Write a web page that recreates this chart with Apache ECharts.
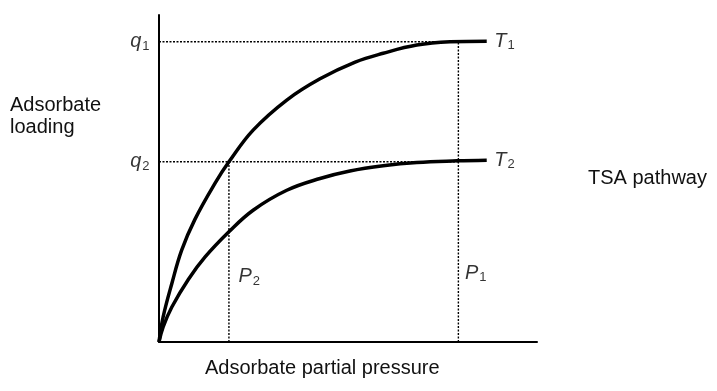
<!DOCTYPE html>
<html>
<head>
<meta charset="utf-8">
<script src="https://cdn.jsdelivr.net/npm/echarts@6/dist/echarts.min.js"></script>
<style>html,body{margin:0;padding:0;background:#fff}#c{width:717px;height:391px}</style>
</head>
<body>
<div id="c"></div>
<script>
// Isotherm at T1 (higher loading) and T2 (lower loading); x = partial pressure, y = loading (arbitrary units)
const t1X = [0, 1.1, 3.4, 6.0, 9.5, 14.8, 18.5, 24.9, 33.8, 42.6, 51.9, 59.3, 68.2, 77.0, 86.7];
const t1Y = [0, 7.7, 17.9, 28.1, 37.5, 48.5, 55.1, 64.8, 74.0, 80.5, 85.6, 88.3, 90.8, 91.8, 92.0];
const t2X = [0, 1.1, 3.4, 7.8, 12.2, 18.5, 24.9, 33.8, 42.6, 50.5, 59.3, 68.2, 78.8, 86.7];
const t2Y = [0, 4.6, 10.7, 19.2, 26.0, 33.7, 40.3, 46.4, 50.0, 52.3, 53.9, 54.9, 55.4, 55.6];
const qValues = [91.8, 55.1];      // q1, q2
const pValues = [79.2, 18.5];      // P1, P2
const curveNames = ['T1', 'T2'];
const xTitle = 'Adsorbate partial pressure';
const yTitle = 'Adsorbate loading';
const sideNote = 'TSA pathway';

const chart = echarts.init(document.getElementById('c'));
const zip = (xs, ys) => xs.map((x, i) => [x, ys[i]]);
const dotted = {color: '#000', width: 1.4, type: [2, 1.5]};
const font = 'Liberation Sans, Arial, Helvetica, sans-serif';
const rich = {
  i: {fontFamily: font, fontStyle: 'italic', fontSize: 20, color: '#000'},
  s: {fontFamily: font, fontSize: 13, color: '#000', padding: [9, 0, 0, 1]}
};
const sym = (name, n) => '{i|' + name + '}{s|' + n + '}';

const refSeries = [
  [[0, qValues[0]], [pValues[0], qValues[0]]],
  [[0, qValues[1]], [pValues[0], qValues[1]]],
  [[pValues[0], 0], [pValues[0], qValues[0]]],
  [[pValues[1], 0], [pValues[1], qValues[1]]]
].map(d => ({type: 'line', data: d, symbol: 'none', lineStyle: dotted, z: 1, silent: true, animation: false}));

const t1 = zip(t1X, t1Y), t2 = zip(t2X, t2Y);

chart.setOption({
  animation: false,
  grid: {left: 159, right: 180, top: 15, bottom: 49},
  xAxis: {type: 'value', min: 0, max: 100, axisLine: {lineStyle: {color: '#000', width: 2}}, axisTick: {show: false}, axisLabel: {show: false}, splitLine: {show: false}},
  yAxis: {type: 'value', min: 0, max: 100, axisLine: {show: true, lineStyle: {color: '#000', width: 2}}, axisTick: {show: false}, axisLabel: {show: false}, splitLine: {show: false}},
  series: refSeries.concat([
    {type: 'line', data: t1, smooth: 0.4, symbol: 'none', lineStyle: {color: '#000', width: 3.5}, z: 3},
    {type: 'line', data: t2, smooth: 0.4, symbol: 'none', lineStyle: {color: '#000', width: 3.5}, z: 3},
    {type: 'scatter', symbolSize: 1, itemStyle: {color: 'rgba(0,0,0,0)'}, z: 5,
      data: [
        {value: [0, qValues[0]], label: {position: 'left', distance: 9, formatter: sym('q', 1)}},
        {value: [0, qValues[1]], label: {position: 'left', distance: 9, formatter: sym('q', 2)}},
        {value: t1[t1.length - 1], label: {position: 'right', distance: 7, formatter: sym(curveNames[0][0], curveNames[0][1])}},
        {value: t2[t2.length - 1], label: {position: 'right', distance: 7, formatter: sym(curveNames[1][0], curveNames[1][1])}},
        {value: [pValues[0], 21], label: {position: 'right', distance: 6, formatter: sym('P', 1)}},
        {value: [pValues[1], 20], label: {position: 'right', distance: 9, formatter: sym('P', 2)}}
      ],
      label: {show: true, rich: rich}
    }
  ]),
  graphic: [
    {type: 'text', left: 10, top: 94, style: {text: yTitle.replace(' ', '\n'), font: '20px ' + font, fill: '#111', lineHeight: 22}},
    {type: 'text', left: 205, top: 358, style: {text: xTitle, font: '20px ' + font, fill: '#111'}},
    {type: 'text', left: 588, top: 168, style: {text: sideNote, font: '20px ' + font, fill: '#111'}}
  ]
});
</script>
</body>
</html>
